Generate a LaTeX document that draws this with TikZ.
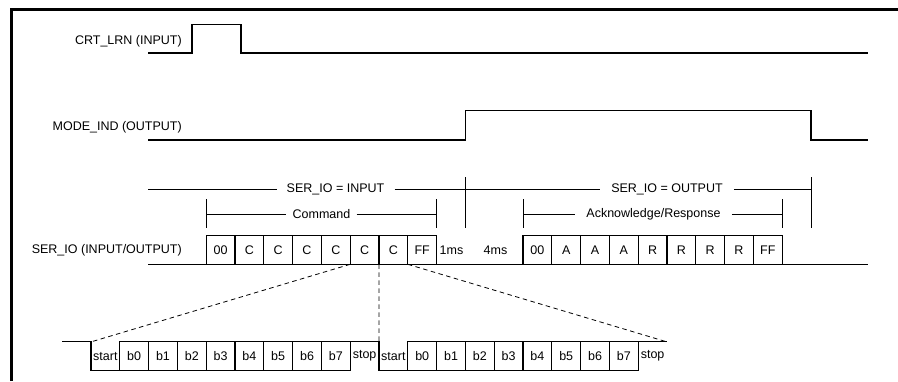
\documentclass[tikz,border=0pt]{standalone}
\usepackage{fontspec}
\setmainfont{Liberation Sans}
\begin{document}
\begin{tikzpicture}[x=1pt,y=-1pt,
  font=\fontsize{12.5}{15}\selectfont,
  sig/.style={line width=1.1pt, line join=miter},
  brk/.style={line width=0.8pt},
  frm/.style={line width=2.6pt},
  dashln/.style={line width=0.8pt, dash pattern=on 4.5pt off 3.5pt},
  lbl/.style={anchor=east, inner sep=0pt},
  gaptext/.style={inner ysep=0pt},
  bitbox/.style={draw, line width=1.1pt, minimum width=28.8pt, minimum height=28.6pt, inner sep=0pt, outer sep=0pt},
  openbox/.style={minimum width=28.8pt, minimum height=28.6pt, inner sep=0pt, outer sep=0pt}]
\useasboundingbox (0,0) rectangle (898,381);
% frame
\draw[frm] (11.5,381) -- (11.5,9.5) -- (898,9.5);
% CRT_LRN
\node[lbl] (crt) at (182,41) {CRT\_LRN (INPUT)};
\draw[sig] (148,53) -- (192,53) -- (192,24.5) -- (241,24.5) -- (241,53) -- (868,53);
% MODE_IND
\node[lbl] (mode) at (182,127) {MODE\_IND (OUTPUT)};
\draw[sig] (148,140) -- (465.5,140) -- (465.5,110.5) -- (811,110.5) -- (811,140) -- (868,140);
% SER_IO brackets
\node[gaptext, inner xsep=10pt] (sin) at (335.5,189.5) {SER\_IO = INPUT};
\node[gaptext, inner xsep=11pt] (sout) at (667,189.5) {SER\_IO = OUTPUT};
\coordinate (sl) at (148,189.5);
\coordinate (sr) at (811,189.5);
\draw[brk] (sl) -- (sin.west);
\draw[brk] (sin.east) -- (sout.west);
\draw[brk] (sout.east) -- (sr);
\draw[brk] (465.5,177) -- (465.5,228);
\draw[brk] (811,177) -- (811,228);
% Command bracket
\node[gaptext, inner xsep=6pt] (cmd) at (321.5,214) {Command};
\draw[brk] (206.2,199) -- (206.2,228);
\draw[brk] (436.6,199) -- (436.6,228);
\draw[brk] (206.2,214) -- (cmd.west);
\draw[brk] (cmd.east) -- (436.6,214);
% Acknowledge bracket
\node[gaptext, inner xsep=11pt] (ack) at (653.5,214) {Acknowledge/Response};
\draw[brk] (523,199) -- (523,228);
\draw[brk] (782.2,199) -- (782.2,228);
\draw[brk] (523,214) -- (ack.west);
\draw[brk] (ack.east) -- (782.2,214);
% SER_IO row
\node[lbl] (ser) at (182,250) {SER\_IO (INPUT/OUTPUT)};
\draw[sig] (148,264.3) -- (868,264.3);
\foreach \t [count=\i from 4] in {00,C,C,C,C,C,C,FF}
  \node[bitbox] (u\i) at ({91+28.8*\i+14.4},250) {\t};
\foreach \t [count=\i from 15] in {00,A,A,A,R,R,R,R,FF}
  \node[bitbox] (u\i) at ({91+28.8*\i+14.4},250) {\t};
\node (t1) at (451.5,250) {1ms};
\node (t4) at (495.5,250) {4ms};
% lower row
\node[openbox] (l0) at ({91+14.4},356.2) {start};
\foreach \t [count=\i from 1] in {b0,b1,b2,b3,b4,b5,b6,b7}
  \node[bitbox] (l\i) at ({91+28.8*\i+14.4},356.2) {\t};
\node[openbox] (l9) at ({91+28.8*9+14.4},356.2) {stop};
\node[openbox] (l10) at ({91+28.8*10+14.4},356.2) {start};
\foreach \t [count=\i from 11] in {b0,b1,b2,b3,b4,b5,b6,b7}
  \node[bitbox] (l\i) at ({91+28.8*\i+14.4},356.2) {\t};
\node[openbox] (l19) at ({91+28.8*19+14.4},356.2) {stop};
\coordinate (idle) at (62,341.9);
\draw[sig] (idle) -- (l0.north west) -- (l0.south west) -- (l9.south west);
\draw[sig] (l1.north west) -- (l9.north east) -- (l9.south east) -- (l19.south west);
\draw[sig] (l11.north west) -- (l19.north east);
% dashed expansions
\draw[dashln] (u9.south west) -- (l0.north west);
\draw[dashln] (u10.south west) -- (l9.north east);
\draw[dashln] (u11.south west) -- (l19.north east);
\end{tikzpicture}
\end{document}
